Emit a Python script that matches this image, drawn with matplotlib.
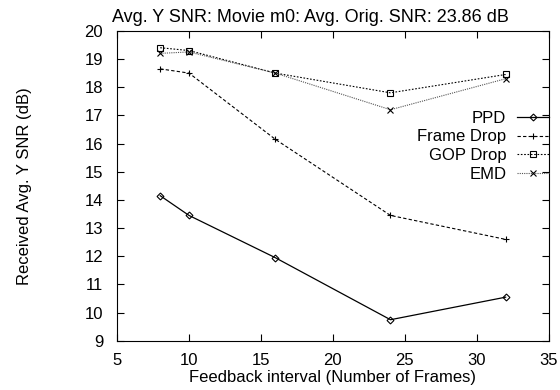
import matplotlib
matplotlib.use("Agg")
import matplotlib.pyplot as plt

plt.rcParams["font.family"] = ["Liberation Sans", "DejaVu Sans"]

x = [8, 10, 16, 24, 32]
ppd = [14.15, 13.45, 11.95, 9.75, 10.55]
frame_drop = [18.65, 18.5, 16.15, 13.45, 12.6]
gop_drop = [19.4, 19.3, 18.5, 17.8, 18.45]
emd = [19.2, 19.25, 18.5, 17.2, 18.3]

fig = plt.figure(figsize=(5.6, 3.9), dpi=100)
ax = fig.add_axes([0.209, 0.126, 0.771, 0.795])

ax.plot(x, ppd, "-", color="black", lw=0.9, marker="D", ms=3.5, mfc="none", mew=0.8, label="PPD")
ax.plot(x, frame_drop, color="black", lw=0.8, ls=(0, (3, 2)), marker="+", ms=5, mew=0.8, label="Frame Drop")
ax.plot(x, gop_drop, color="black", lw=0.8, ls=(0, (1.5, 1.5)), marker="s", ms=4.5, mfc="none", mew=0.8, label="GOP Drop")
ax.plot(x, emd, color="#555555", lw=0.8, ls=(0, (1, 1)), marker="x", ms=4.5, mew=0.8, mec="black", label="EMD")

ax.set_xlim(5, 35)
ax.set_ylim(9, 20)
ax.set_xticks(range(5, 36, 5))
ax.set_yticks(range(9, 21))
ax.tick_params(direction="in", top=True, right=True, labelsize=12, length=5)
ax.tick_params(axis="x", pad=9)
ax.tick_params(axis="y", pad=10)
ax.set_xlabel("Feedback interval (Number of Frames)", fontsize=12, labelpad=1)
ax.set_ylabel("Received Avg. Y SNR (dB)", fontsize=12, labelpad=38)
ax.set_title("Avg. Y SNR: Movie m0: Avg. Orig. SNR: 23.86 dB", fontsize=13, pad=6, x=0.449)

# markerfirst=False -> 텍스트 오른쪽 정렬, 샘플선은 오른쪽
ax.legend(loc="upper right", bbox_to_anchor=(1.0, 0.742), frameon=False, fontsize=12,
          markerfirst=False, handlelength=1.9, handletextpad=0.65, labelspacing=0.22,
          borderaxespad=0, borderpad=0)

fig.savefig("out.png", dpi=100)
